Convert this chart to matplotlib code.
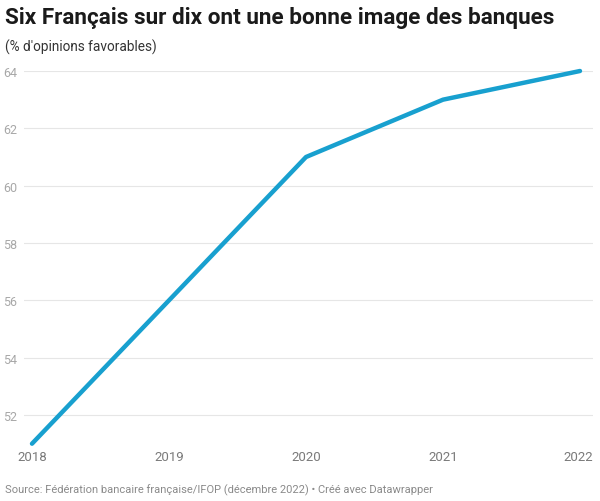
import matplotlib.pyplot as plt

plt.rcParams['font.family'] = ['Roboto', 'DejaVu Sans']

years = [2018, 2019, 2020, 2021, 2022]
favorables = [51, 56, 61, 63, 64]
yticks = [52, 54, 56, 58, 60, 62, 64]

W, H = 600, 502
fig = plt.figure(figsize=(W / 100, H / 100), dpi=100)

# axes: gridlines from x=24 to x=593, 2018 at x=32, 2022 at x=580
left, right = 24, 593
x0, x1 = 32, 580
ppy = (x1 - x0) / (years[-1] - years[0])
xmin = years[0] - (x0 - left) / ppy
xmax = years[-1] + (right - x1) / ppy
y_top, y_bot = 72, 444.7
ax = fig.add_axes([left / W, 1 - y_bot / H, (right - left) / W, (y_bot - y_top) / H])
ax.set_xlim(xmin, xmax)
ax.set_ylim(51, 64)

ax.plot(years, favorables, color='#18a0cf', lw=3.2, solid_capstyle='round', clip_on=False, zorder=3)

for t in yticks:
    ax.axhline(t, color='#e6e6e6', lw=0.8, zorder=1)

for s in ax.spines.values():
    s.set_visible(False)
ax.set_yticks(yticks)
ax.set_yticklabels([str(t) for t in yticks])
ax.tick_params(axis='y', length=0, pad=5, labelsize=9, labelcolor='#a8a8a8')
ax.set_xticks([])

for i, yr in enumerate(years):
    xp = (x0 + (yr - years[0]) * ppy) / W
    ha = 'center'
    if i == len(years) - 1:
        xp = right / W
        ha = 'right'
    fig.text(xp, 1 - 458 / H, str(yr), ha=ha, va='center', fontsize=9.5, color='#7a7a7a')

fig.text(5 / W, 1 - 18 / H, 'Six Français sur dix ont une bonne image des banques',
         fontsize=16.2, fontweight='bold', color='#1a1a1a', va='center', ha='left')
fig.text(5 / W, 1 - 47 / H, "(% d'opinions favorables)", fontsize=9.8, color='#333333',
         va='center', ha='left')
fig.text(5 / W, 1 - 490 / H,
         'Source: Fédération bancaire française/IFOP (décembre 2022) • Créé avec Datawrapper',
         fontsize=8, color='#8a8a8a', va='center', ha='left')

fig.savefig('out.png', dpi=100)
